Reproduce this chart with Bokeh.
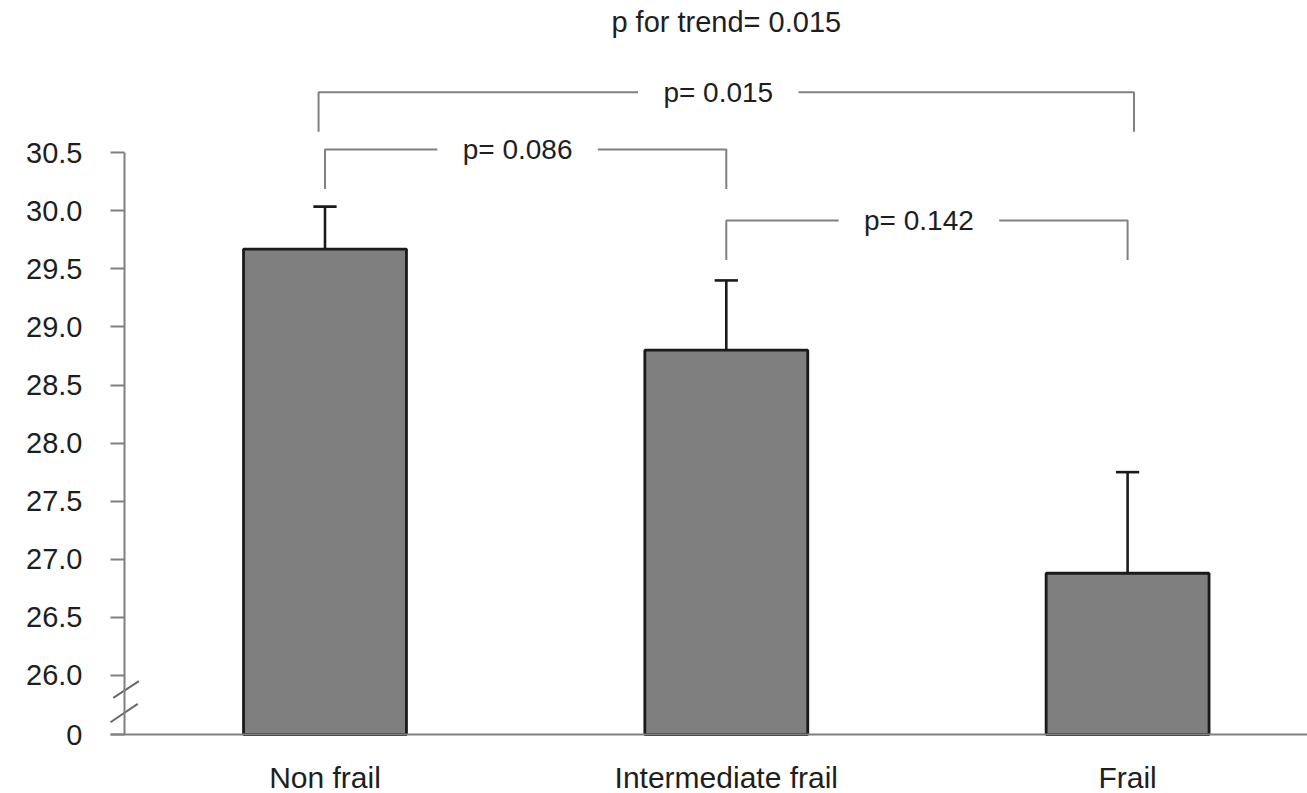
from bokeh.plotting import figure
from bokeh.models import Range1d, FixedTicker, Label, ColumnDataSource
from bokeh.embed import file_html
from bokeh.resources import INLINE
from bokeh.core.properties import value

# ---------------- data ----------------
categories = ["Non frail", "Intermediate frail", "Frail"]
means = [29.67, 28.80, 26.88]
upper_errors = [0.365, 0.60, 0.87]

y_tick_values = [26.0, 26.5, 27.0, 27.5, 28.0, 28.5, 29.0, 29.5, 30.0, 30.5]
y_tick_labels = ["26.0", "26.5", "27.0", "27.5", "28.0", "28.5", "29.0", "29.5", "30.0", "30.5"]
zero_label = "0"

comparisons = [(0, 2), (0, 1), (1, 2)]
p_labels = ["p= 0.015", "p= 0.086", "p= 0.142"]
trend_label = "p for trend= 0.015"

# ---------------- layout / style constants ----------------
FONT = "Liberation Sans"
TEXT = "#1e1e1e"
GREY = "#808080"
BREAK_LEVEL = 25.492          # where the broken axis shows "0"
Y_BOTTOM, Y_TOP = 24.9845, 31.809
X_START, X_END = 0.1914, 3.4483
YAXIS_AT = 0.5004             # data x where the (broken) y axis is drawn
XAXIS_FROM = 0.4655
BAR_W = 0.406
CAP_HALF = 0.029
bracket_levels = [31.02, 30.527, 29.916]
bracket_drop = 0.34
bracket_outset = [0.016, 0.0, 0.0]
label_shift = -0.02
gap_half = 0.2
trend_level = 31.62

xs = [i + 1 for i in range(len(categories))]

p = figure(frame_width=1307, frame_height=793,
           x_range=Range1d(X_START, X_END), y_range=Range1d(Y_BOTTOM, Y_TOP),
           output_backend="svg", toolbar_location=None,
           min_border_left=0, min_border_right=0, min_border_top=0, min_border_bottom=0)
p.outline_line_color = None
p.xgrid.visible = False
p.ygrid.visible = False
p.background_fill_color = "white"
p.border_fill_color = "white"

# bars
src = ColumnDataSource(dict(x=xs, top=means,
                            err=[m + e for m, e in zip(means, upper_errors)],
                            cl=[x - CAP_HALF for x in xs], cr=[x + CAP_HALF for x in xs]))
p.vbar(x="x", top="top", bottom=BREAK_LEVEL, width=BAR_W, source=src,
       fill_color="#7f7f7f", line_color="#1a1a1a", line_width=2.8)
p.segment(x0="x", y0="top", x1="x", y1="err", source=src, line_color="#1a1a1a", line_width=2.6)
p.segment(x0="cl", y0="err", x1="cr", y1="err", source=src, line_color="#1a1a1a", line_width=2.6)

# significance brackets
lx, ly, rx, ry = [], [], [], []
tx, ty = [], []
for (a, b), lvl, out in zip(comparisons, bracket_levels, bracket_outset):
    x0 = xs[a] - out
    x1 = xs[b] + out
    mid = (x0 + x1) / 2 + label_shift
    lx.append([x0, x0, mid - gap_half]); ly.append([lvl - bracket_drop, lvl, lvl])
    rx.append([mid + gap_half, x1, x1]); ry.append([lvl, lvl, lvl - bracket_drop])
    tx.append(mid); ty.append(lvl)
p.multi_line(xs=lx + rx, ys=ly + ry, line_color=GREY, line_width=2)
p.text(x=tx, y=ty, text=p_labels, text_font=value(FONT), text_font_size="28px",
       text_align="center", text_baseline="middle", text_color=TEXT)

p.add_layout(Label(x=sum(xs) / len(xs), y=trend_level, text=trend_label,
                   text_font=FONT, text_font_size="29px", text_align="center",
                   text_baseline="middle", text_color=TEXT))

# axis break marks ("//" across the y axis)
bx0 = [YAXIS_AT - 0.028, YAXIS_AT - 0.035]
bx1 = [YAXIS_AT + 0.036, YAXIS_AT + 0.033]
by0 = [BREAK_LEVEL + 0.316, BREAK_LEVEL + 0.106]
by1 = [BREAK_LEVEL + 0.459, BREAK_LEVEL + 0.264]
p.segment(x0=bx0, y0=by0, x1=bx1, y1=by1, line_color="#6a6a6a", line_width=2)

# y axis (drawn at a fixed x inside the frame so the break marks can cross it)
yax = p.yaxis[0]
yax.fixed_location = YAXIS_AT
yax.ticker = FixedTicker(ticks=[BREAK_LEVEL] + y_tick_values)
overrides = {BREAK_LEVEL: zero_label}
overrides.update({v: l for v, l in zip(y_tick_values, y_tick_labels)})
yax.major_label_overrides = overrides
yax.bounds = (BREAK_LEVEL, y_tick_values[-1])
yax.major_label_text_font = FONT
yax.major_label_text_font_size = "29px"
yax.major_label_text_color = TEXT
yax.major_label_standoff = 28
yax.major_tick_out = 14
yax.major_tick_in = 0
yax.minor_tick_out = 0
yax.minor_tick_in = 0
yax.axis_line_color = GREY
yax.axis_line_width = 2
yax.major_tick_line_color = GREY
yax.major_tick_line_width = 2

# x axis (drawn at the broken-axis baseline)
xax = p.xaxis[0]
xax.fixed_location = BREAK_LEVEL
xax.ticker = FixedTicker(ticks=xs)
xax.major_label_overrides = {x: c for x, c in zip(xs, categories)}
xax.bounds = (XAXIS_FROM, X_END)
xax.major_label_text_font = FONT
xax.major_label_text_font_size = "30px"
xax.major_label_text_color = TEXT
xax.major_label_standoff = 26
xax.major_tick_out = 0
xax.major_tick_in = 0
xax.minor_tick_out = 0
xax.minor_tick_in = 0
xax.axis_line_color = GREY
xax.axis_line_width = 2

open("out.html", "w").write(file_html(p, INLINE))
